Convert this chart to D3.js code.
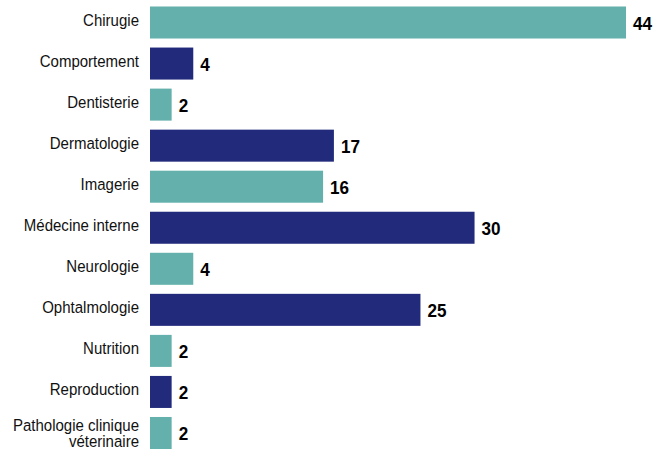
<!DOCTYPE html>
<html><head><meta charset="utf-8">
<script src="https://cdn.jsdelivr.net/npm/d3@7"></script>
<style>
html,body{margin:0;padding:0;background:#fff;}
svg{display:block;}
</style></head>
<body>
<svg id="chart" width="656" height="449"></svg>
<script>
const categories = ["Chirugie","Comportement","Dentisterie","Dermatologie","Imagerie","Médecine interne","Neurologie","Ophtalmologie","Nutrition","Reproduction","Pathologie clinique\nvéterinaire"];
const values = [44,4,2,17,16,30,4,25,2,2,2];
const colorsByRow = ["teal","navy","teal","navy","teal","navy","teal","navy","teal","navy","teal"];
const palette = {teal:"#64b0ac", navy:"#222b7b"};

const svg = d3.select("#chart");
const x = d3.scaleLinear().domain([0,44]).range([150,626]);
const y = d3.scaleBand().domain(categories).range([6.5,449]).paddingInner(0.22).paddingOuter(0);
const font = "'Liberation Sans',Arial,sans-serif";
const sx = 0.884;

svg.selectAll("rect.bar").data(categories).join("rect")
  .attr("class","bar")
  .attr("x", x(0))
  .attr("y", d=>y(d))
  .attr("width", (d,i)=>x(values[i])-x(0))
  .attr("height", y.bandwidth())
  .attr("fill", (d,i)=>palette[colorsByRow[i]]);

svg.selectAll("text.val").data(categories).join("text")
  .attr("class","val")
  .attr("transform", (d,i)=>`translate(${x(values[i])+7},${y(d)+y.bandwidth()/2+7}) scale(0.9,1)`)
  .attr("font-family", font)
  .attr("font-weight","bold")
  .attr("font-size", 19)
  .attr("fill","#000")
  .text((d,i)=>values[i]);

const lab = svg.selectAll("text.lab").data(categories).join("text")
  .attr("class","lab")
  .attr("text-anchor","end")
  .attr("transform", d=>`translate(139,${y(d)+y.bandwidth()/2}) scale(${sx},1)`)
  .attr("font-family", font)
  .attr("font-size", 17)
  .attr("fill","#111");
lab.each(function(d){
  const lines = d.split("\n");
  const t = d3.select(this);
  const lh = 15.5;
  const first = lines.length === 1 ? 3 : -2;
  lines.forEach((ln,k)=>{
    t.append("tspan").attr("x",0)
     .attr("y", first + k*lh)
     .text(ln);
  });
});
</script>
</body></html>
